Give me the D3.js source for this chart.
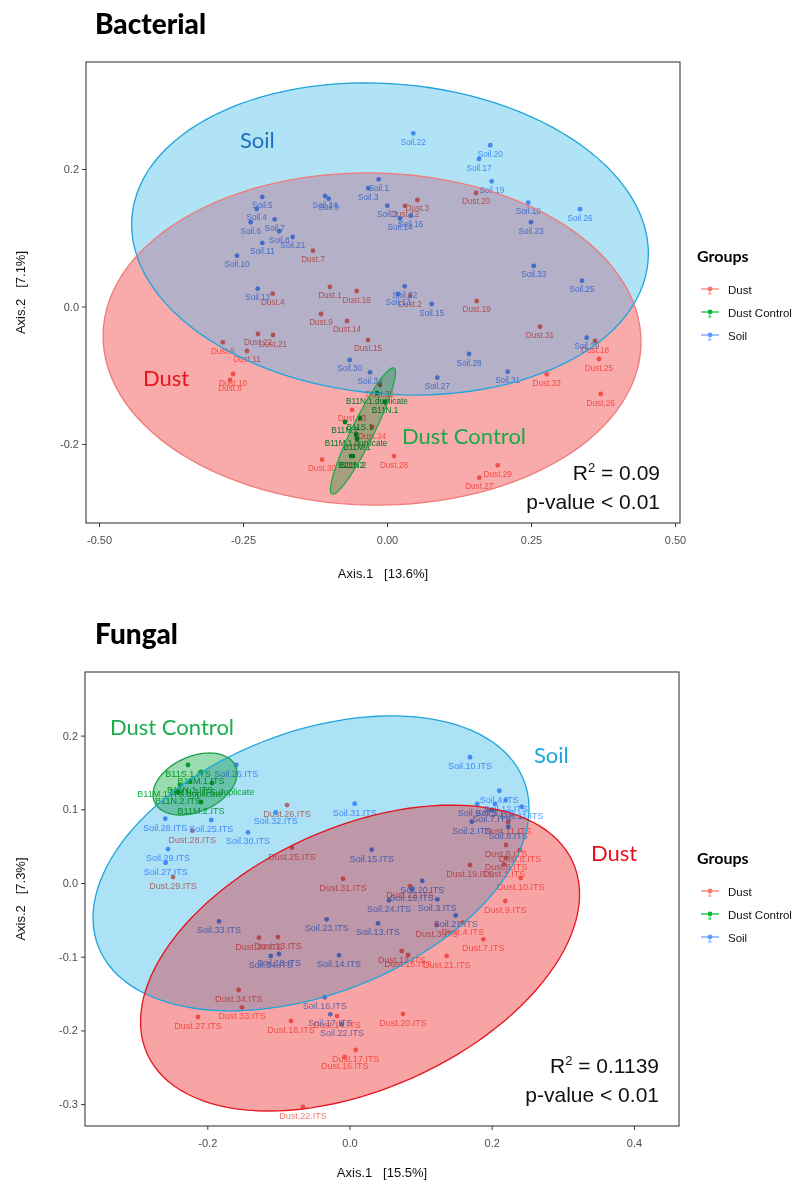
<!DOCTYPE html>
<html>
<head>
<meta charset="utf-8">
<script src="https://cdn.jsdelivr.net/npm/d3@7"></script>
<style>
  body { margin: 0; background: #fff; }
  svg text { font-family: "Liberation Sans", Arial, sans-serif; }
</style>
</head>
<body>
<svg id="chart" width="803" height="1190"></svg>
<script>
// ---- Bacterial PCoA (Axis.1, Axis.2) ----
const bactSoil = [
  ["Soil.1", -0.0144, 0.185], ["Soil.2", 0.0005, 0.1466], ["Soil.3", -0.0325, 0.172],
  ["Soil.4", -0.2262, 0.1418], ["Soil.5", -0.2165, 0.1593], ["Soil.6", -0.2366, 0.1225],
  ["Soil.7", -0.195, 0.1268], ["Soil.8", -0.187, 0.1094], ["Soil.9", -0.1012, 0.1568],
  ["Soil.10", -0.2604, 0.0739], ["Soil.11", -0.2165, 0.0924], ["Soil.12", -0.2245, 0.0259],
  ["Soil.13", 0.0196, 0.0182], ["Soil.14", 0.0226, 0.1283], ["Soil.15", 0.0776, 0.0036],
  ["Soil.16", 0.0411, 0.1321], ["Soil.17", 0.1597, 0.2145], ["Soil.18", 0.2453, 0.151],
  ["Soil.19", 0.1818, 0.1821], ["Soil.20", 0.1793, 0.2345], ["Soil.21", -0.1637, 0.1011],
  ["Soil.22", 0.0457, 0.2519], ["Soil.23", 0.25, 0.1225], ["Soil.24", -0.1076, 0.1607],
  ["Soil.25", 0.3385, 0.0375], ["Soil.26", 0.3351, 0.1414], ["Soil.27", 0.0873, -0.1036],
  ["Soil.28", 0.1424, -0.0691], ["Soil.29", 0.3467, -0.0454], ["Soil.30", -0.0648, -0.0778],
  ["Soil.31", 0.2095, -0.0948], ["Soil.32", 0.0307, 0.0294], ["Soil.33", 0.2547, 0.0589],
  ["Soil.34", -0.0295, -0.0957]
];
const bactDust = [
  ["Dust.1", -0.099, 0.0284], ["Dust.2", 0.04, 0.0153], ["Dust.3", 0.0526, 0.1549],
  ["Dust.4", -0.1984, 0.0186], ["Dust.6", -0.2852, -0.0521], ["Dust.7", -0.1285, 0.0812],
  ["Dust.8", -0.2726, -0.1069], ["Dust.9", -0.1146, -0.0109], ["Dust.10", -0.2674, -0.0982],
  ["Dust.11", -0.2431, -0.0647], ["Dust.12", 0.0313, 0.1462], ["Dust.13", -0.0608, -0.1505],
  ["Dust.14", -0.0694, -0.0211], ["Dust.15", -0.033, -0.0487], ["Dust.16", -0.0526, 0.0225],
  ["Dust.18", 0.3611, -0.0502], ["Dust.19", 0.1557, 0.008], ["Dust.20", 0.1545, 0.1651],
  ["Dust.21", -0.1979, -0.0415], ["Dust.22", -0.224, -0.04], ["Dust.25", 0.368, -0.0764],
  ["Dust.26", 0.371, -0.1273], ["Dust.27", 0.1602, -0.249], ["Dust.28", 0.0122, -0.2175],
  ["Dust.29", 0.1922, -0.231], ["Dust.30", -0.1128, -0.2228], ["Dust.31", 0.2656, -0.0294],
  ["Dust.32", -0.0122, -0.1142], ["Dust.33", 0.2773, -0.0986], ["Dust.34", -0.026, -0.1753]
];
const bactControl = [
  ["B11N.1.duplicate", -0.0174, -0.1258], ["B11N.1", -0.0035, -0.1389],
  ["B11S.1", -0.0469, -0.1622], ["B11M.2", -0.0729, -0.168],
  ["B11M.1.duplicate", -0.0538, -0.1869], ["B11M.1", -0.0521, -0.1927],
  ["B11S.2", -0.0625, -0.2175], ["B11N.2", -0.059, -0.2175]
];
// ellipses: centre x, centre y, first semi-axis (dx, dy), second semi-axis (dx, dy)
const bactSoilEllipse = [0.0052, 0.0982, 0.448, -0.0329, -0.0234, -0.2246];
const bactDustEllipse = [-0.026, -0.0473, 0.467, -0.0068, -0.005, -0.2415];
const bactControlEllipse = [-0.0417, -0.1811, 0.0538, 0.0916, 0.0172, -0.0071];
const bactXTicks = [-0.5, -0.25, 0, 0.25, 0.5];
const bactYTicks = [-0.2, 0, 0.2];

// ---- Fungal PCoA ----
const fungSoil = [
  ["Soil.2.ITS", 0.1719, 0.0832], ["Soil.3.ITS", 0.1235, -0.0221], ["Soil.4.ITS", 0.2107, 0.1252],
  ["Soil.5.ITS", 0.2046, 0.1072], ["Soil.7.ITS", 0.2, 0.099], ["Soil.8.ITS", 0.2233, 0.0764],
  ["Soil.9.ITS", 0.1797, 0.1072], ["Soil.10.ITS", 0.1695, 0.1706], ["Soil.11.ITS", 0.2422, 0.1035],
  ["Soil.12.ITS", 0.2197, 0.1126], ["Soil.13.ITS", 0.0401, -0.0547], ["Soil.14.ITS", -0.0148, -0.0981],
  ["Soil.15.ITS", 0.0312, 0.0452], ["Soil.16.ITS", -0.0349, -0.1551], ["Soil.17.ITS", -0.027, -0.1782],
  ["Soil.18.ITS", -0.0992, -0.0963], ["Soil.19.ITS", 0.0875, -0.0085], ["Soil.20.ITS", 0.1024, 0.0027],
  ["Soil.21.ITS", 0.1494, -0.0438], ["Soil.22.ITS", -0.0105, -0.1913], ["Soil.23.ITS", -0.0321, -0.0493],
  ["Soil.24.ITS", 0.0556, -0.0235], ["Soil.25.ITS", -0.1944, 0.0855], ["Soil.26.ITS", -0.1592, 0.1601],
  ["Soil.27.ITS", -0.2585, 0.0275], ["Soil.28.ITS", -0.2591, 0.0872], ["Soil.29.ITS", -0.2553, 0.0461],
  ["Soil.30.ITS", -0.1428, 0.0688], ["Soil.31.ITS", 0.0073, 0.1076], ["Soil.32.ITS", -0.1038, 0.0959],
  ["Soil.33.ITS", -0.1835, -0.052], ["Soil.34.ITS", -0.1108, -0.099]
];
const fungDust = [
  ["Dust.1.ITS", 0.2173, 0.0251], ["Dust.3.ITS", 0.1226, -0.057], ["Dust.4.ITS", 0.1592, -0.0539],
  ["Dust.5.ITS", 0.2201, 0.0516], ["Dust.6.ITS", 0.2201, 0.0339], ["Dust.7.ITS", 0.1882, -0.0764],
  ["Dust.8.ITS", 0.2398, 0.0448], ["Dust.9.ITS", 0.2191, -0.0244], ["Dust.10.ITS", 0.2408, 0.0068],
  ["Dust.11.ITS", 0.2229, 0.0828], ["Dust.12.ITS", 0.0734, -0.0923], ["Dust.13.ITS", -0.1006, -0.0733],
  ["Dust.14.ITS", -0.0176, -0.1805], ["Dust.15.ITS", 0.0823, -0.0977], ["Dust.16.ITS", -0.0068, -0.2361],
  ["Dust.17.ITS", 0.0087, -0.2266], ["Dust.18.ITS", -0.0823, -0.1872], ["Dust.19.ITS", 0.1695, 0.0244],
  ["Dust.20.ITS", 0.0752, -0.1777], ["Dust.21.ITS", 0.1367, -0.099], ["Dust.22.ITS", -0.0654, -0.3039],
  ["Dust.23.ITS", 0.0851, -0.0041], ["Dust.25.ITS", -0.0809, 0.0479], ["Dust.26.ITS", -0.0879, 0.1058],
  ["Dust.27.ITS", -0.2131, -0.1818], ["Dust.28.ITS", -0.2211, 0.071], ["Dust.29.ITS", -0.2482, 0.0081],
  ["Dust.30.ITS", -0.1273, -0.0742], ["Dust.31.ITS", -0.0091, 0.0058], ["Dust.33.ITS", -0.1512, -0.1687],
  ["Dust.34.ITS", -0.1558, -0.1452]
];
const fungControl = [
  ["B11S.1.ITS", -0.2271, 0.1601], ["B11M.1.ITS", -0.2089, 0.1506], ["B11N.1.ITS", -0.2243, 0.1384],
  ["B11N.1.ITS.duplicate", -0.1934, 0.1357], ["B11M.1.ITS.duplicate", -0.2384, 0.133],
  ["B11N.2.ITS", -0.2412, 0.1235], ["B11M.2.ITS", -0.2089, 0.1099]
];
const fungSoilEllipse = [-0.0541, 0.0267, 0.2992, 0.1128, 0.067, -0.1653];
const fungDustEllipse = [0.0148, -0.1018, 0.2994, 0.1299, 0.0754, -0.1619];
const fungControlEllipse = [-0.2173, 0.1343, 0.0569, 0.0245, 0.0159, -0.0342];
const fungXTicks = [-0.2, 0, 0.2, 0.4];
const fungYTicks = [-0.3, -0.2, -0.1, 0, 0.1, 0.2];

const groupNames = ["Dust", "Dust Control", "Soil"];
const groupColors = ["#F8766D", "#00BA38", "#619CFF"];

const svg = d3.select("#chart");
svg.append("rect").attr("width", 803).attr("height", 1190).attr("fill", "#fff");
const defs = svg.append("defs");

function ellipseD(e, x, y) {
  const pts = d3.range(0, 121).map(i => {
    const t = i / 120 * 2 * Math.PI;
    return [x(e[0] + e[2] * Math.cos(t) + e[4] * Math.sin(t)),
            y(e[1] + e[3] * Math.cos(t) + e[5] * Math.sin(t))];
  });
  return d3.line()(pts) + "Z";
}

// ggplot prints a plain hyphen for negatives
const fmt = spec => d => d3.format(spec)(d).replace("\u2212", "-");

function drawPanel(p) {
  const x = d3.scaleLinear().domain(p.xDomain).range([p.left, p.right]);
  const y = d3.scaleLinear().domain(p.yDomain).range([p.bottom, p.top]);
  const g = svg.append("g");

  g.append("text").attr("x", 95).attr("y", p.titleY).text(p.title)
    .style("font-family", "Lato, 'Open Sans', sans-serif")
    .style("font-weight", 900).style("font-size", "28px").attr("fill", "#000");

  // points + labels (under the ellipse fills)
  const sets = [[p.dust, groupColors[0]], [p.control, groupColors[1]], [p.soil, groupColors[2]]];
  sets.forEach(([pts, col]) => {
    g.append("g").selectAll("circle").data(pts).join("circle")
      .attr("cx", d => x(d[1])).attr("cy", d => y(d[2])).attr("r", 2.4).attr("fill", col);
    g.append("g").selectAll("text").data(pts).join("text")
      .attr("x", d => x(d[1])).attr("y", d => y(d[2]) + p.labelDy)
      .attr("text-anchor", "middle").style("font-size", p.labelSize + "px")
      .attr("fill", col).text(d => d[0]);
  });

  const soilD = ellipseD(p.soilE, x, y);
  const dustD = ellipseD(p.dustE, x, y);
  const ctrlD = ellipseD(p.controlE, x, y);

  defs.append("clipPath").attr("id", p.id + "-soil").append("path").attr("d", soilD);

  const fills = g.append("g").style("mix-blend-mode", "multiply");
  fills.append("path").attr("d", soilD).attr("fill", p.fills[0]);
  fills.append("path").attr("d", dustD).attr("fill", p.fills[1]);
  fills.append("path").attr("d", dustD).attr("fill", p.fills[2])
    .attr("clip-path", `url(#${p.id}-soil)`);
  g.append("g").style("mix-blend-mode", "multiply")
    .append("path").attr("d", ctrlD).attr("fill", p.fills[3]);

  g.append("path").attr("d", soilD).attr("fill", "none").attr("stroke", p.strokes[0]).attr("stroke-width", 1.3);
  g.append("path").attr("d", dustD).attr("fill", "none").attr("stroke", p.strokes[1]).attr("stroke-width", 1.3);
  g.append("path").attr("d", ctrlD).attr("fill", "none").attr("stroke", p.strokes[2]).attr("stroke-width", 1.3);

  // group annotations
  p.notes.forEach(n => {
    g.append("text").attr("x", n[1]).attr("y", n[2]).text(n[0]).attr("fill", n[3])
      .style("font-family", "Lato, 'Open Sans', sans-serif").style("font-size", "22px");
  });

  // statistics
  const st = g.append("g").style("font-family", "Lato, 'Open Sans', sans-serif")
    .style("font-size", "21px").attr("fill", "#111");
  const r2 = st.append("text").attr("x", p.right - 20).attr("y", p.statY).attr("text-anchor", "end");
  r2.append("tspan").text("R");
  r2.append("tspan").text("2").attr("dy", -8).style("font-size", "13px");
  r2.append("tspan").text(" = " + p.r2).attr("dy", 8);
  st.append("text").attr("x", p.right - 20).attr("y", p.statY + 29).attr("text-anchor", "end")
    .text("p-value < 0.01");

  // frame + axes
  g.append("rect").attr("x", p.left).attr("y", p.top)
    .attr("width", p.right - p.left).attr("height", p.bottom - p.top)
    .attr("fill", "none").attr("stroke", "#3a3a3a").attr("stroke-width", 1.1);

  const xa = g.append("g").attr("transform", `translate(0,${p.bottom})`)
    .call(d3.axisBottom(x).tickValues(p.xTicks).tickFormat(fmt(p.xFmt)).tickSize(4).tickSizeOuter(0));
  const ya = g.append("g").attr("transform", `translate(${p.left},0)`)
    .call(d3.axisLeft(y).tickValues(p.yTicks).tickFormat(fmt(".1f")).tickSize(4).tickSizeOuter(0));
  [xa, ya].forEach(a => {
    a.select(".domain").remove();
    a.selectAll("line").attr("stroke", "#3a3a3a");
    a.selectAll("text").attr("fill", "#4d4d4d").style("font-size", "11px")
      .style("font-family", "'Liberation Sans', Arial, sans-serif");
  });
  xa.selectAll("text").attr("dy", "1.25em");

  g.append("text").attr("x", (p.left + p.right) / 2).attr("y", p.bottom + p.xTitleGap)
    .attr("text-anchor", "middle").style("font-size", "13px").attr("fill", "#111")
    .attr("xml:space", "preserve").text(p.xTitle);
  g.append("text")
    .attr("transform", `translate(25,${(p.top + p.bottom) / 2}) rotate(-90)`)
    .attr("text-anchor", "middle").style("font-size", "13px").attr("fill", "#111")
    .attr("xml:space", "preserve").text(p.yTitle);

  // legend
  const lg = g.append("g").attr("transform", `translate(697,${p.legendY})`);
  lg.append("text").attr("y", 0).text("Groups")
    .style("font-family", "Lato, 'Open Sans', sans-serif").style("font-weight", 700).style("font-size", "16px");
  groupNames.forEach((name, i) => {
    const yy = 27 + i * 23;
    const it = lg.append("g").attr("transform", `translate(0,${yy})`);
    it.append("line").attr("x1", 4).attr("x2", 22).attr("stroke", groupColors[i]).attr("stroke-width", 1.2);
    it.append("circle").attr("cx", 13).attr("r", 2.4).attr("fill", groupColors[i]);
    it.append("text").attr("x", 11).attr("y", 6).text("a").style("font-size", "6px").attr("fill", groupColors[i]);
    it.append("text").attr("x", 31).attr("y", 4.5).text(name).style("font-size", "11.5px").attr("fill", "#111");
  });
}

drawPanel({
  id: "bact", title: "Bacterial", titleY: 34,
  left: 86, right: 680, top: 62, bottom: 523,
  xDomain: [-0.5226, 0.5087], yDomain: [-0.3149, 0.3556],
  xTicks: bactXTicks, yTicks: bactYTicks, xFmt: ".2f",
  soil: bactSoil, dust: bactDust, control: bactControl,
  soilE: bactSoilEllipse, dustE: bactDustEllipse, controlE: bactControlEllipse,
  labelDy: 11.5, labelSize: 8.2,
  fills: ["#AFE3F5", "#F9AAAA", "#B4B0C7", "#A8EEBE"],
  strokes: ["#1FA3DD", "#F07A7A", "#1EAA4A"],
  notes: [["Soil", 240, 148, "#1B70BD"], ["Dust", 143, 386, "#E6141E"], ["Dust Control", 402, 444, "#19A94B"]],
  r2: "0.09", statY: 480,
  xTitle: "Axis.1   [13.6%]", yTitle: "Axis.2   [7.1%]", xTitleGap: 55,
  legendY: 262
});

drawPanel({
  id: "fung", title: "Fungal", titleY: 644,
  left: 85, right: 679, top: 672, bottom: 1126,
  xDomain: [-0.372, 0.4634], yDomain: [-0.3297, 0.2863],
  xTicks: fungXTicks, yTicks: fungYTicks, xFmt: ".1f",
  soil: fungSoil, dust: fungDust, control: fungControl,
  soilE: fungSoilEllipse, dustE: fungDustEllipse, controlE: fungControlEllipse,
  labelDy: 12, labelSize: 9,
  fills: ["#ADE2F6", "#F9A4A4", "#BE97A9", "#9CDAB0"],
  strokes: ["#1DA5DD", "#E4141C", "#17A148"],
  notes: [["Dust Control", 110, 735, "#19AE4B"], ["Soil", 534, 763, "#1AA7E0"], ["Dust", 591, 861, "#E8101A"]],
  r2: "0.1139", statY: 1073,
  xTitle: "Axis.1   [15.5%]", yTitle: "Axis.2   [7.3%]", xTitleGap: 51,
  legendY: 864
});
</script>
</body>
</html>
